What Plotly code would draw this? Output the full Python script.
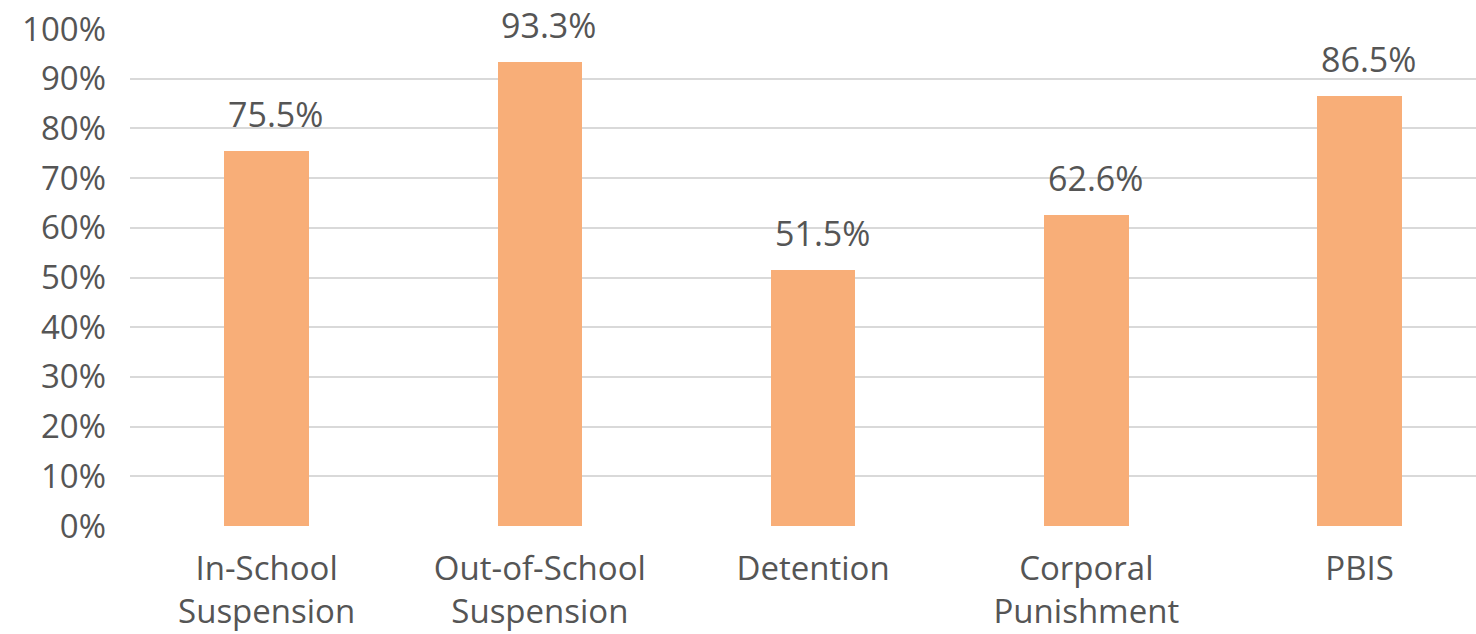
import plotly.graph_objects as go

categories = ["In-School<br>Suspension", "Out-of-School<br>Suspension", "Detention",
              "Corporal<br>Punishment", "PBIS"]
values = [0.755, 0.933, 0.515, 0.626, 0.865]
labels = ["75.5%", "93.3%", "51.5%", "62.6%", "86.5%"]

FONT = "Open Sans"
TXT = "#555555"

fig = go.Figure(go.Bar(
    x=categories, y=values, marker=dict(color="#F8AE78", line=dict(width=0)),
    width=0.31, hoverinfo="skip",
))

for c, v, t in zip(categories, values, labels):
    fig.add_annotation(x=c, y=v, text=t, showarrow=False, yanchor="bottom",
                       xshift=9, yshift=12,
                       font=dict(family=FONT, size=34, color=TXT))

fig.update_layout(
    width=1476, height=634,
    margin=dict(l=130, r=0, t=29, b=108),
    paper_bgcolor="white", plot_bgcolor="white",
    showlegend=False,
    bargap=0,
)
fig.update_xaxes(
    range=[-0.5, 4.426], showgrid=False, zeroline=False, showline=False,
    ticks="", tickfont=dict(family=FONT, size=33, color=TXT), ticklabelstandoff=20,
)
fig.update_yaxes(
    range=[0, 1], dtick=0.1, tickformat=".0%", showgrid=True,
    gridcolor="#D9D9D9", gridwidth=2, zeroline=False, showline=False,
    ticks="", tickfont=dict(family=FONT, size=33, color=TXT), ticklabelstandoff=23,
)

fig.write_html("out.html")
